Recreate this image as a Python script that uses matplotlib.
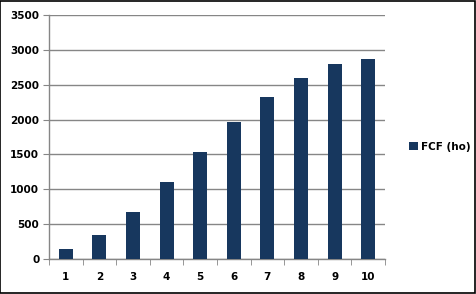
import matplotlib.pyplot as plt
from matplotlib.patches import Rectangle

# values
categories = [1, 2, 3, 4, 5, 6, 7, 8, 9, 10]
fcf_ho = [150, 350, 680, 1100, 1540, 1960, 2320, 2600, 2800, 2870]
y_ticks = [0, 500, 1000, 1500, 2000, 2500, 3000, 3500]

bar_color = '#17375E'
grid_color = '#868686'

fig = plt.figure(figsize=(4.76, 2.94), dpi=100)
ax = fig.add_axes([49 / 476, 1 - 259 / 294, 336 / 476, 244 / 294])

ax.bar(categories, fcf_ho, width=0.42, color=bar_color, label='FCF (ho)', zorder=3)

ax.set_xlim(0.5, 10.5)
ax.set_ylim(0, 3500)
ax.set_yticks(y_ticks)
ax.yaxis.grid(True, color=grid_color, linewidth=1, zorder=0)

# tick marks sit between the categories
ax.set_xticks(categories)
ax.set_xticks([c + 0.5 for c in [0] + categories], minor=True)
ax.tick_params(axis='x', which='major', length=0, pad=9)
ax.tick_params(axis='x', which='minor', length=4, color=grid_color, direction='out')
ax.tick_params(axis='y', length=4, color=grid_color, direction='out', pad=3)

for lab in ax.get_xticklabels() + ax.get_yticklabels():
    lab.set_fontsize(7.5)
    lab.set_fontweight('bold')

for side in ['top', 'right']:
    ax.spines[side].set_visible(False)
for side in ['left', 'bottom']:
    ax.spines[side].set_color(grid_color)
    ax.spines[side].set_linewidth(1)

leg = fig.legend(loc='center left', bbox_to_anchor=(400 / 476, 1 - 147 / 294),
                 frameon=False, handlelength=0.8, handleheight=0.8,
                 handletextpad=0.3, prop={'size': 7.5, 'weight': 'bold'})

# black frame round the whole chart
fig.patches.append(Rectangle((0.001, 0.002), 0.997, 0.995, transform=fig.transFigure,
                             fill=False, edgecolor='black', linewidth=1.2))

fig.savefig('out.png', dpi=100)
